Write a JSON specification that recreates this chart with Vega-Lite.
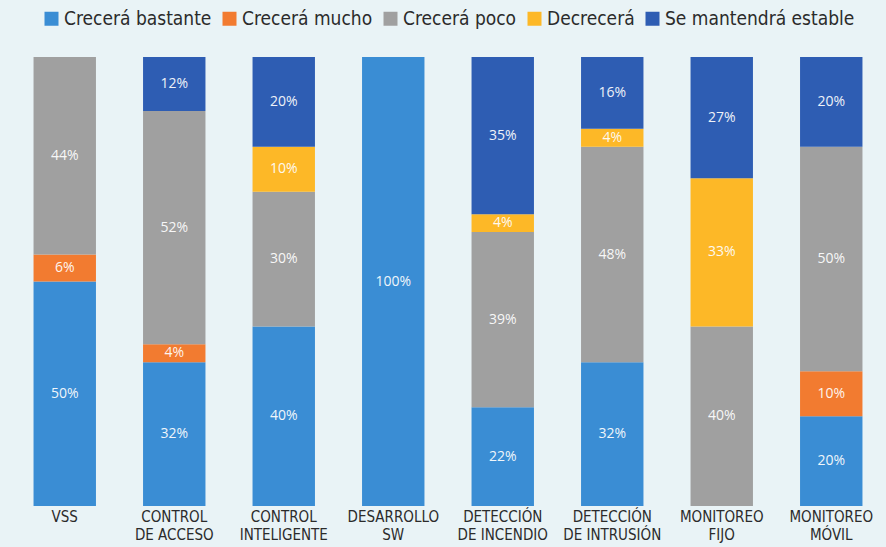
{
  "$schema": "https://vega.github.io/schema/vega-lite/v6.json",
  "width": 876,
  "height": 449,
  "autosize": {"type": "none"},
  "padding": {"left": 10, "top": 57, "right": 0, "bottom": 41},
  "background": "#e9f3f6",
  "config": {
    "view": {"stroke": null},
    "legend": {"layout": {"top": {"anchor": "middle"}}}
  },
  "data": {
    "values": [
      {"cat": "VSS", "serie": "Crecerá bastante", "v": 0.50},
      {"cat": "VSS", "serie": "Crecerá mucho", "v": 0.06},
      {"cat": "VSS", "serie": "Crecerá poco", "v": 0.44},
      {"cat": "CONTROL|DE ACCESO", "serie": "Crecerá bastante", "v": 0.32},
      {"cat": "CONTROL|DE ACCESO", "serie": "Crecerá mucho", "v": 0.04},
      {"cat": "CONTROL|DE ACCESO", "serie": "Crecerá poco", "v": 0.52},
      {"cat": "CONTROL|DE ACCESO", "serie": "Se mantendrá estable", "v": 0.12},
      {"cat": "CONTROL|INTELIGENTE", "serie": "Crecerá bastante", "v": 0.40},
      {"cat": "CONTROL|INTELIGENTE", "serie": "Crecerá poco", "v": 0.30},
      {"cat": "CONTROL|INTELIGENTE", "serie": "Decrecerá", "v": 0.10},
      {"cat": "CONTROL|INTELIGENTE", "serie": "Se mantendrá estable", "v": 0.20},
      {"cat": "DESARROLLO|SW", "serie": "Crecerá bastante", "v": 1.00},
      {"cat": "DETECCIÓN|DE INCENDIO", "serie": "Crecerá bastante", "v": 0.22},
      {"cat": "DETECCIÓN|DE INCENDIO", "serie": "Crecerá poco", "v": 0.39},
      {"cat": "DETECCIÓN|DE INCENDIO", "serie": "Decrecerá", "v": 0.04},
      {"cat": "DETECCIÓN|DE INCENDIO", "serie": "Se mantendrá estable", "v": 0.35},
      {"cat": "DETECCIÓN|DE INTRUSIÓN", "serie": "Crecerá bastante", "v": 0.32},
      {"cat": "DETECCIÓN|DE INTRUSIÓN", "serie": "Crecerá poco", "v": 0.48},
      {"cat": "DETECCIÓN|DE INTRUSIÓN", "serie": "Decrecerá", "v": 0.04},
      {"cat": "DETECCIÓN|DE INTRUSIÓN", "serie": "Se mantendrá estable", "v": 0.16},
      {"cat": "MONITOREO|FIJO", "serie": "Crecerá poco", "v": 0.40},
      {"cat": "MONITOREO|FIJO", "serie": "Decrecerá", "v": 0.33},
      {"cat": "MONITOREO|FIJO", "serie": "Se mantendrá estable", "v": 0.27},
      {"cat": "MONITOREO|MÓVIL", "serie": "Crecerá bastante", "v": 0.20},
      {"cat": "MONITOREO|MÓVIL", "serie": "Crecerá mucho", "v": 0.10},
      {"cat": "MONITOREO|MÓVIL", "serie": "Crecerá poco", "v": 0.50},
      {"cat": "MONITOREO|MÓVIL", "serie": "Se mantendrá estable", "v": 0.20}
    ]
  },
  "encoding": {
    "x": {
      "field": "cat",
      "type": "nominal",
      "sort": null,
      "scale": {"paddingInner": 0.43, "paddingOuter": 0.215},
      "axis": {
        "title": null,
        "domain": false,
        "ticks": false,
        "labelAngle": 0,
        "labelExpr": "split(datum.label, '|')",
        "labelFont": "DejaVu Sans Condensed",
        "labelFontSize": 15,
        "labelLineHeight": 18,
        "labelColor": "#2b2b2b",
        "labelPadding": 3,
        "labelBaseline": "top"
      }
    },
    "y": {
      "field": "v",
      "type": "quantitative",
      "stack": "zero",
      "scale": {"domain": [0, 1], "nice": false},
      "axis": null
    },
    "order": {"field": "serie", "sort": "ascending"}
  },
  "layer": [
    {
      "mark": {"type": "bar"},
      "encoding": {
        "color": {
          "field": "serie",
          "type": "nominal",
          "scale": {
            "domain": ["Crecerá bastante", "Crecerá mucho", "Crecerá poco", "Decrecerá", "Se mantendrá estable"],
            "range": ["#3a8dd4", "#f27b30", "#a0a0a0", "#fdb827", "#2e5db3"]
          },
          "legend": {
            "title": null,
            "orient": "top",
            "direction": "horizontal",
            "columns": 5,
            "offset": 28,
            "symbolType": "square",
            "symbolSize": 196,
            "symbolStrokeWidth": 0,
            "labelFont": "DejaVu Sans Condensed",
            "labelFontSize": 19,
            "labelLimit": 400,
            "labelColor": "#2b2b2b",
            "labelOffset": 3,
            "columnPadding": 8
          }
        }
      }
    },
    {
      "mark": {"type": "text", "font": "Open Sans", "fontSize": 14, "color": "#ffffff", "opacity": 0.92},
      "encoding": {
        "y": {"field": "v", "type": "quantitative", "stack": "zero", "bandPosition": 0.5},
        "text": {"field": "v", "type": "quantitative", "format": ".0%"}
      }
    }
  ]
}
